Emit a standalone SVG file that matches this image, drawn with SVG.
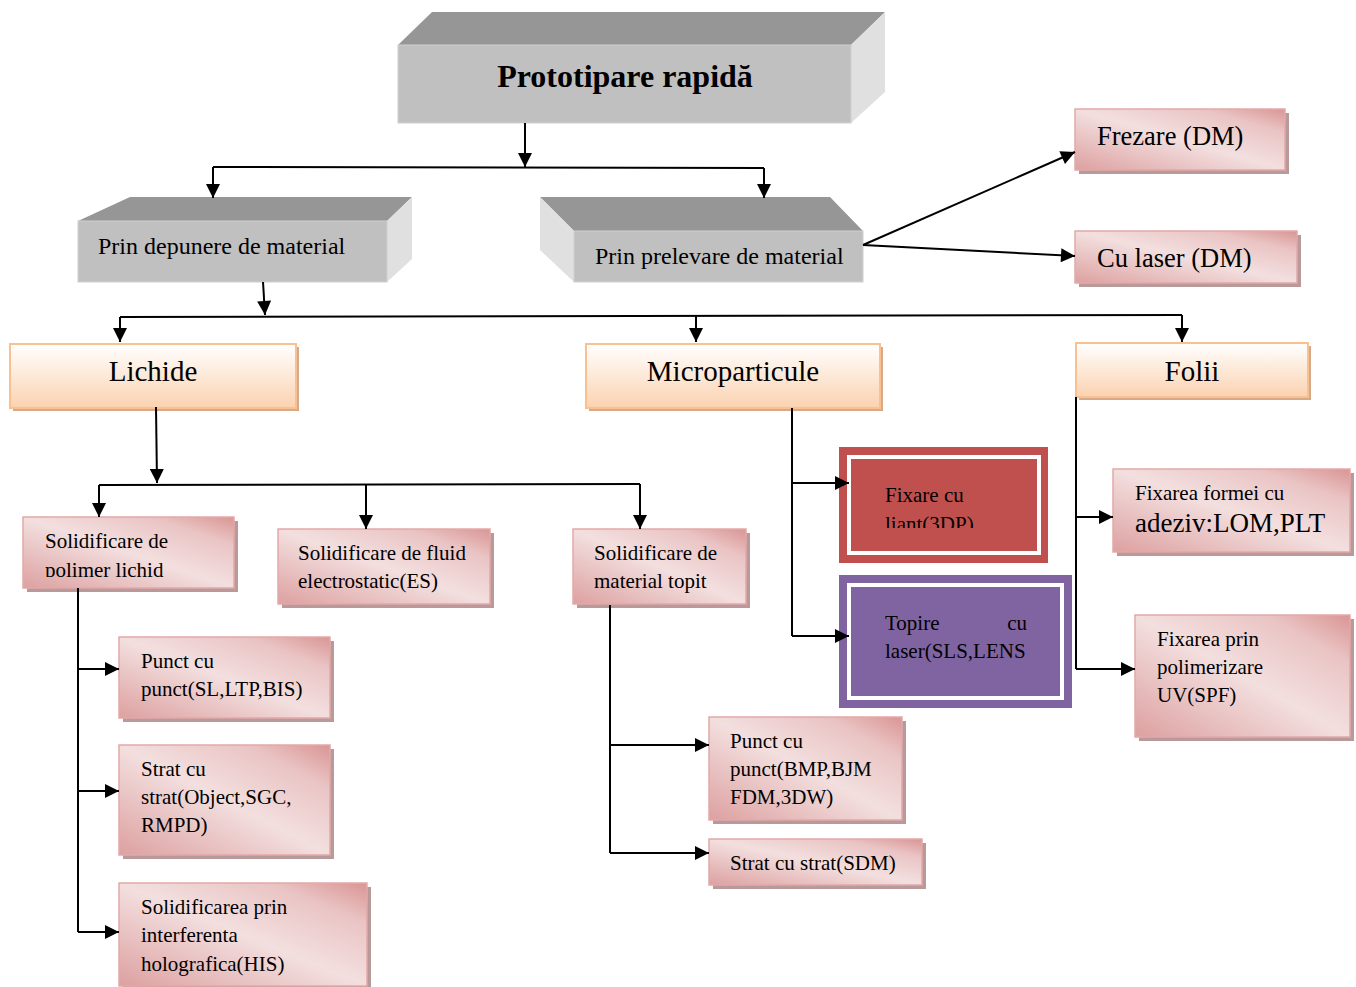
<svg xmlns="http://www.w3.org/2000/svg" width="1356" height="987" viewBox="0 0 1356 987">
<defs>
<linearGradient id="pinkG" x1="0" y1="1" x2="1" y2="0">
<stop offset="0" stop-color="#dda0a0"/>
<stop offset="0.5" stop-color="#f3dfdf"/>
<stop offset="0.8" stop-color="#eac4c4"/>
<stop offset="1" stop-color="#d99594"/>
</linearGradient>
<linearGradient id="orG" x1="0" y1="0" x2="0" y2="1">
<stop offset="0" stop-color="#ffffff"/>
<stop offset="1" stop-color="#fbd2b0"/>
</linearGradient>
<marker id="ah" viewBox="0 0 10 10" refX="10" refY="5" markerWidth="8" markerHeight="7" markerUnits="strokeWidth" orient="auto">
<path d="M0,0 L10,5 L0,10 z" fill="#000"/>
</marker>
<clipPath id="clipLiant"><rect x="850" y="455" width="190" height="73"/></clipPath>
<clipPath id="clipPol"><rect x="23" y="517" width="212" height="60"/></clipPath>
</defs>
<style>
text{font-family:"Liberation Serif","Times New Roman",serif;fill:#000;}
.t19{font-size:21px;}
.t22{font-size:24px;}
.t24{font-size:26.5px;}
.t26{font-size:29px;}
.pink{fill:url(#pinkG);stroke:#e2a9a8;stroke-width:1.5;}
.psh{fill:#b89a9a;}
.orange{fill:url(#orG);stroke:#fac08f;stroke-width:2;}
.osh{fill:#d4aa8a;}
.front{fill:#c0c0c0;stroke:#d0d0d0;stroke-width:1;}
.top{fill:#969696;}
.side{fill:#e0e0e0;}
.conn{stroke:#000;stroke-width:2;fill:none;}
.arr{marker-end:url(#ah);}
</style>

<g id="prototipare">
<polygon class="top" points="398,45 851,45 885,12 432,12"/>
<polygon class="side" points="851,45 885,12 885,92 851,123"/>
<rect class="front" x="398" y="45" width="453" height="78"/>
<text x="625" y="87" text-anchor="middle" font-size="32" font-weight="bold">Prototipare rapidă</text>
</g>

<g id="depunere">
<polygon class="top" points="78,221 387,221 412,197 130,197"/>
<polygon class="side" points="387,221 412,197 412,259 387,282"/>
<rect class="front" x="78" y="221" width="309" height="61"/>
<text class="t22" x="98" y="254">Prin depunere de material</text>
</g>

<g id="prelevare">
<polygon class="top" points="540,197 830,197 863,231 574,231"/>
<polygon class="side" points="540,197 574,231 574,282 540,250"/>
<rect class="front" x="574" y="231" width="289" height="51"/>
<text class="t22" x="595" y="264">Prin prelevare de material</text>
</g>

<g id="frezare">
<rect class="psh" x="1079" y="113" width="210" height="61"/>
<rect class="pink" x="1075" y="109" width="210" height="61"/>
<text class="t24" x="1097" y="145">Frezare (DM)</text>
</g>

<g id="culaser">
<rect class="psh" x="1079" y="235" width="222" height="52"/>
<rect class="pink" x="1075" y="231" width="222" height="52"/>
<text class="t24" x="1097" y="267">Cu laser (DM)</text>
</g>

<g id="lichide">
<rect class="osh" x="13" y="347" width="286" height="64"/>
<rect class="orange" x="10" y="344" width="286" height="64"/>
<text class="t26" x="153" y="381" text-anchor="middle">Lichide</text>
</g>

<g id="microparticule">
<rect class="osh" x="589" y="347" width="294" height="64"/>
<rect class="orange" x="586" y="344" width="294" height="64"/>
<text class="t26" x="733" y="381" text-anchor="middle">Microparticule</text>
</g>

<g id="folii">
<rect class="osh" x="1079" y="346" width="232" height="54"/>
<rect class="orange" x="1076" y="343" width="232" height="54"/>
<text class="t26" x="1192" y="381" text-anchor="middle">Folii</text>
</g>

<g id="fixare-liant">
<rect x="839" y="447" width="209" height="116" fill="#c0504d"/>
<rect x="849" y="457" width="190" height="96" fill="#c0504d" stroke="#ffffff" stroke-width="4"/>
<g clip-path="url(#clipLiant)">
<text class="t19" x="885" y="502">Fixare cu</text>
<text class="t19" x="885" y="531">liant(3DP)</text>
</g>
</g>

<g id="topire-laser">
<rect x="839" y="575" width="233" height="133" fill="#8064a2"/>
<rect x="849" y="585" width="213" height="113" fill="#8064a2" stroke="#ffffff" stroke-width="4"/>
<text class="t19" x="885" y="630">Topire</text>
<text class="t19" x="1027" y="630" text-anchor="end">cu</text>
<text class="t19" x="885" y="658">laser(SLS,LENS</text>
</g>

<g id="fixarea-formei">
<rect class="psh" x="1117" y="473" width="237" height="83"/>
<rect class="pink" x="1113" y="469" width="237" height="83"/>
<text class="t19" x="1135" y="500">Fixarea formei cu</text>
<text x="1135" y="532" font-size="27">adeziv:LOM,PLT</text>
</g>

<g id="fixarea-prin">
<rect class="psh" x="1139" y="619" width="215" height="122"/>
<rect class="pink" x="1135" y="615" width="215" height="122"/>
<text class="t19" x="1157" y="646">Fixarea prin</text>
<text class="t19" x="1157" y="674">polimerizare</text>
<text class="t19" x="1157" y="702">UV(SPF)</text>
</g>

<g id="solid-polimer">
<rect class="psh" x="27" y="521" width="211" height="71"/>
<rect class="pink" x="23" y="517" width="211" height="71"/>
<g clip-path="url(#clipPol)">
<text class="t19" x="45" y="548">Solidificare de</text>
<text class="t19" x="45" y="577">polimer lichid</text>
</g>
</g>

<g id="solid-fluid">
<rect class="psh" x="282" y="533" width="212" height="75"/>
<rect class="pink" x="278" y="529" width="212" height="75"/>
<text class="t19" x="298" y="560">Solidificare de fluid</text>
<text class="t19" x="298" y="588">electrostatic(ES)</text>
</g>

<g id="solid-topit">
<rect class="psh" x="577" y="533" width="173" height="75"/>
<rect class="pink" x="573" y="529" width="173" height="75"/>
<text class="t19" x="594" y="560">Solidificare de</text>
<text class="t19" x="594" y="588">material topit</text>
</g>

<g id="punct-sl">
<rect class="psh" x="123" y="641" width="211" height="81"/>
<rect class="pink" x="119" y="637" width="211" height="81"/>
<text class="t19" x="141" y="668">Punct cu</text>
<text class="t19" x="141" y="696">punct(SL,LTP,BIS)</text>
</g>

<g id="strat-object">
<rect class="psh" x="123" y="749" width="211" height="110"/>
<rect class="pink" x="119" y="745" width="211" height="110"/>
<text class="t19" x="141" y="776">Strat cu</text>
<text class="t19" x="141" y="804">strat(Object,SGC,</text>
<text class="t19" x="141" y="832">RMPD)</text>
</g>

<g id="solid-his">
<rect class="psh" x="123" y="887" width="248" height="103"/>
<rect class="pink" x="119" y="883" width="248" height="103"/>
<text class="t19" x="141" y="914">Solidificarea prin</text>
<text class="t19" x="141" y="942">interferenta</text>
<text class="t19" x="141" y="971">holografica(HIS)</text>
</g>

<g id="punct-bmp">
<rect class="psh" x="713" y="721" width="193" height="103"/>
<rect class="pink" x="709" y="717" width="193" height="103"/>
<text class="t19" x="730" y="748">Punct cu</text>
<text class="t19" x="730" y="776">punct(BMP,BJM</text>
<text class="t19" x="730" y="804">FDM,3DW)</text>
</g>

<g id="strat-sdm">
<rect class="psh" x="713" y="843" width="213" height="46"/>
<rect class="pink" x="709" y="839" width="213" height="46"/>
<text class="t19" x="730" y="870">Strat cu strat(SDM)</text>
</g>

<g id="connectors">
<path class="conn arr" d="M525,123 L525,167"/>
<path class="conn" d="M213,167 L764,168"/>
<path class="conn arr" d="M213,167 L213,198"/>
<path class="conn arr" d="M764,168 L764,198"/>
<path class="conn arr" d="M863,245 L1075,152"/>
<path class="conn arr" d="M863,245 L1075,256"/>
<path class="conn arr" d="M263,282 L265,315"/>
<path class="conn" d="M120,317 L1182,315"/>
<path class="conn arr" d="M120,317 L120,342"/>
<path class="conn arr" d="M696,316 L696,342"/>
<path class="conn arr" d="M1182,315 L1182,342"/>
<path class="conn arr" d="M156,407 L157,483"/>
<path class="conn" d="M99,485 L640,484"/>
<path class="conn arr" d="M99,485 L99,517"/>
<path class="conn arr" d="M366,484 L366,529"/>
<path class="conn arr" d="M640,484 L640,529"/>
<path class="conn" d="M78,588 L78,932"/>
<path class="conn arr" d="M78,669 L119,669"/>
<path class="conn arr" d="M78,791 L119,791"/>
<path class="conn arr" d="M78,932 L119,932"/>
<path class="conn" d="M610,605 L610,853"/>
<path class="conn arr" d="M610,745 L709,745"/>
<path class="conn arr" d="M610,853 L709,853"/>
<path class="conn" d="M792,408 L792,636"/>
<path class="conn arr" d="M792,483 L849,483"/>
<path class="conn arr" d="M792,636 L849,636"/>
<path class="conn" d="M1076,397 L1076,669"/>
<path class="conn arr" d="M1076,517 L1113,517"/>
<path class="conn arr" d="M1076,669 L1135,669"/>
</g>
</svg>
